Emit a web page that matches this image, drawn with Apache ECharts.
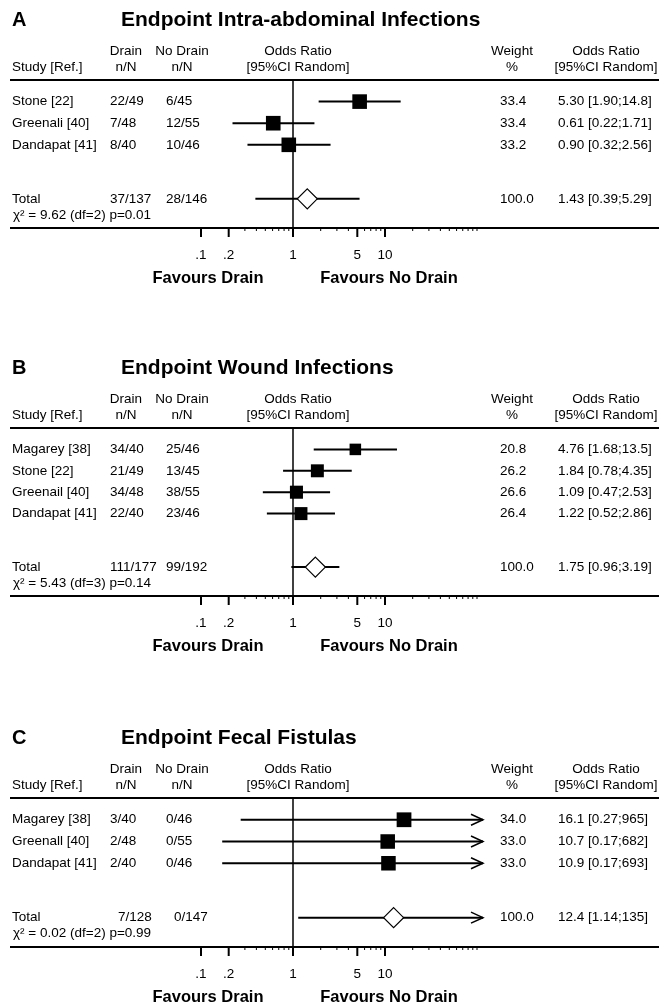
<!DOCTYPE html>
<html><head><meta charset="utf-8">
<script src="https://cdn.jsdelivr.net/npm/echarts@6/dist/echarts.min.js"></script>
<style>html,body{margin:0;padding:0;background:#fff}#c{width:659px;height:1007px}</style>
</head><body><div id="c"></div>
<script>
// ---- Panel headings ----
const panelLetters = ['A', 'B', 'C'];
const panelTitles = ['Endpoint Intra-abdominal Infections', 'Endpoint Wound Infections', 'Endpoint Fecal Fistulas'];

// ---- Panel A ----
const studiesA = ['Stone [22]', 'Greenali [40]', 'Dandapat [41]'];
const drainA = ['22/49', '7/48', '8/40'];
const noDrainA = ['6/45', '12/55', '10/46'];
const orA = [5.30, 0.61, 0.90];
const lowA = [1.90, 0.22, 0.32];
const highA = [14.8, 1.71, 2.56];
const weightA = [33.4, 33.4, 33.2];

// ---- Panel B ----
const studiesB = ['Magarey [38]', 'Stone [22]', 'Greenail [40]', 'Dandapat [41]'];
const drainB = ['34/40', '21/49', '34/48', '22/40'];
const noDrainB = ['25/46', '13/45', '38/55', '23/46'];
const orB = [4.76, 1.84, 1.09, 1.22];
const lowB = [1.68, 0.78, 0.47, 0.52];
const highB = [13.5, 4.35, 2.53, 2.86];
const weightB = [20.8, 26.2, 26.6, 26.4];

// ---- Panel C ----
const studiesC = ['Magarey [38]', 'Greenall [40]', 'Dandapat [41]'];
const drainC = ['3/40', '2/48', '2/40'];
const noDrainC = ['0/46', '0/55', '0/46'];
const orC = [16.1, 10.7, 10.9];
const lowC = [0.27, 0.17, 0.17];
const highC = [965, 682, 693];
const weightC = [34.0, 33.0, 33.0];

// ---- Totals (A, B, C) ----
const totalDrain = ['37/137', '111/177', '7/128'];
const totalNoDrain = ['28/146', '99/192', '0/147'];
const totalOR = [1.43, 1.75, 12.4];
const totalLow = [0.39, 0.96, 1.14];
const totalHigh = [5.29, 3.19, 135];
const totalWeight = [100.0, 100.0, 100.0];
const heterogeneity = ['χ² = 9.62 (df=2) p=0.01', 'χ² = 5.43 (df=3) p=0.14', 'χ² = 0.02 (df=2) p=0.99'];

// ---- Axis ----
const tickValues = [0.1, 0.2, 1, 5, 10];
const tickLabels = ['.1', '.2', '1', '5', '10'];
const minorTickValues = [0.3, 0.4, 0.5, 0.6, 0.7, 0.8, 0.9, 2, 3, 4, 6, 7, 8, 9, 20, 30, 40, 50, 60, 70, 80, 90, 100];
const axisMin = 0.01, axisMax = 100;

// ---- Layout ----
const ONE_X = 293, DECADE = 92;
const panelTop = [80, 428, 798];
const panelBottom = [228, 596, 947];
const totalShift = [0, 0, 8];
const FONT = '"Liberation Sans", Arial, Helvetica, sans-serif';
const fs = 13.5;

const panels = [
  {studies: studiesA, drain: drainA, noDrain: noDrainA, or: orA, low: lowA, high: highA, weight: weightA},
  {studies: studiesB, drain: drainB, noDrain: noDrainB, or: orB, low: lowB, high: highB, weight: weightB},
  {studies: studiesC, drain: drainC, noDrain: noDrainC, or: orC, low: lowC, high: highC, weight: weightC}
];

function fmt(v) { return v < 1 ? v.toFixed(2) : v.toPrecision(3); }
function orText(o, l, h) { return fmt(o) + ' [' + fmt(l) + ';' + fmt(h) + ']'; }

const chart = echarts.init(document.getElementById('c'), null, {renderer: 'canvas'});

const grids = [], xAxes = [], yAxes = [], series = [];

function ciRender(params, api) {
  const lo = api.value(1), hi = api.value(2), y = api.value(3);
  const clipHi = hi > axisMax;
  const a = api.coord([Math.max(lo, axisMin), y]);
  const b = api.coord([Math.min(hi, axisMax), y]);
  let endX = b[0];
  if (clipHi) endX += 6;
  const children = [{type: 'line', shape: {x1: a[0], y1: a[1], x2: endX, y2: b[1]}, style: {stroke: '#000', lineWidth: 2}}];
  if (clipHi) {
    children.push({type: 'polyline', shape: {points: [[endX - 12, b[1] - 5.5], [endX, b[1]], [endX - 12, b[1] + 5.5]]},
      style: {stroke: '#000', lineWidth: 1.5, fill: null}});
  }
  return {type: 'group', children};
}

panels.forEach((p, i) => {
  const n = p.studies.length;
  const yMax = n + 3.85;
  const yTotal = n + 2.5;
  grids.push({left: ONE_X - 2 * DECADE, width: 4 * DECADE, top: panelTop[i], height: panelBottom[i] - panelTop[i]});
  xAxes.push({gridIndex: i, type: 'log', logBase: 10, min: axisMin, max: axisMax, show: false});
  yAxes.push({gridIndex: i, type: 'value', inverse: true, min: 0, max: yMax, show: false});

  const ciData = p.or.map((o, k) => [o, p.low[k], p.high[k], k + 1]);
  ciData.push([totalOR[i], totalLow[i], totalHigh[i], yTotal]);
  series.push({type: 'custom', xAxisIndex: i, yAxisIndex: i, renderItem: ciRender, clip: false,
    encode: {x: [1, 2], y: 3}, data: ciData, z: 2, silent: true});

  series.push({type: 'scatter', xAxisIndex: i, yAxisIndex: i, symbol: 'rect',
    symbolSize: v => 2.53 * Math.sqrt(v[2]),
    itemStyle: {color: '#000', opacity: 1}, z: 3, silent: true,
    data: p.or.map((o, k) => [o, k + 1, p.weight[k]]),
    markLine: {silent: true, symbol: ['none', 'none'], label: {show: false},
      lineStyle: {color: '#000', width: 1.5, type: 'solid', opacity: 1}, data: [{xAxis: 1}]}
  });

  series.push({type: 'scatter', xAxisIndex: i, yAxisIndex: i, symbol: 'diamond', symbolSize: 20,
    itemStyle: {color: '#fff', borderColor: '#000', borderWidth: 1.2, opacity: 1}, z: 4, silent: true,
    data: [[totalOR[i], yTotal]]});

  // major ticks + labels
  series.push({type: 'custom', xAxisIndex: i, yAxisIndex: i, clip: false, silent: true, z: 2,
    encode: {x: 0, y: 1},
    data: tickValues.map((v, k) => [v, yMax, k]),
    renderItem: (params, api) => {
      const pt = api.coord([api.value(0), api.value(1)]);
      return {type: 'group', children: [
        {type: 'line', shape: {x1: pt[0], y1: pt[1], x2: pt[0], y2: pt[1] + 9}, style: {stroke: '#000', lineWidth: 2}},
        {type: 'text', style: {text: tickLabels[api.value(2)], x: pt[0], y: pt[1] + 27,
          textAlign: 'center', textVerticalAlign: 'middle', align: 'center', verticalAlign: 'middle',
          font: fs + 'px ' + FONT, fill: '#000'}}
      ]};
    }});
  // minor ticks
  series.push({type: 'custom', xAxisIndex: i, yAxisIndex: i, clip: false, silent: true, z: 2,
    encode: {x: 0, y: 1},
    data: minorTickValues.map(v => [v, yMax]),
    renderItem: (params, api) => {
      const pt = api.coord([api.value(0), api.value(1)]);
      return {type: 'line', shape: {x1: pt[0], y1: pt[1], x2: pt[0], y2: pt[1] + 3}, style: {stroke: '#000', lineWidth: 1}};
    }});
});

chart.setOption({animation: false, backgroundColor: '#fff', grid: grids, xAxis: xAxes, yAxis: yAxes, series});

// ---- Table text ----
const graphics = [];
function txt(text, x, y, align, font) {
  graphics.push({type: 'text', silent: true, style: {text, x, y, textAlign: align, textVerticalAlign: 'middle',
    align: align, verticalAlign: 'middle', font: font || (fs + 'px ' + FONT), fill: '#000'}});
}
function rule(y) {
  graphics.push({type: 'line', silent: true, shape: {x1: 10, y1: y, x2: 659, y2: y}, style: {stroke: '#000', lineWidth: 2}});
}
const COL = {study: 12, drain: 110, noDrain: 166, weight: 500, or: 558};

panels.forEach((p, i) => {
  const top = panelTop[i], bot = panelBottom[i];
  const n = p.studies.length;
  const rowY = v => chart.convertToPixel({yAxisIndex: i}, v);
  txt(panelLetters[i], 12, top - 60, 'left', 'bold 20px ' + FONT);
  txt(panelTitles[i], 121, top - 60, 'left', 'bold 21px ' + FONT);
  const h1 = top - 29, h2 = top - 13;
  txt('Study [Ref.]', 12, h2, 'left');
  txt('Drain', 126, h1, 'center'); txt('n/N', 126, h2, 'center');
  txt('No Drain', 182, h1, 'center'); txt('n/N', 182, h2, 'center');
  txt('Odds Ratio', 298, h1, 'center'); txt('[95%CI Random]', 298, h2, 'center');
  txt('Weight', 512, h1, 'center'); txt('%', 512, h2, 'center');
  txt('Odds Ratio', 606, h1, 'center'); txt('[95%CI Random]', 606, h2, 'center');
  rule(top); rule(bot);
  p.studies.forEach((s, k) => {
    const y = rowY(k + 1);
    txt(s, COL.study, y, 'left');
    txt(p.drain[k], COL.drain, y, 'left');
    txt(p.noDrain[k], COL.noDrain, y, 'left');
    txt(p.weight[k].toFixed(1), COL.weight, y, 'left');
    txt(orText(p.or[k], p.low[k], p.high[k]), COL.or, y, 'left');
  });
  const yt = rowY(n + 2.5);
  txt('Total', COL.study, yt, 'left');
  txt(totalDrain[i], COL.drain + totalShift[i], yt, 'left');
  txt(totalNoDrain[i], COL.noDrain + totalShift[i], yt, 'left');
  txt(totalWeight[i].toFixed(1), COL.weight, yt, 'left');
  txt(orText(totalOR[i], totalLow[i], totalHigh[i]), COL.or, yt, 'left');
  txt(heterogeneity[i], 13, yt + 16, 'left');
  txt('Favours Drain', 208, bot + 50, 'center', 'bold 16.5px ' + FONT);
  txt('Favours No Drain', 389, bot + 50, 'center', 'bold 16.5px ' + FONT);
});

chart.setOption({graphic: graphics});
</script>
</body></html>
